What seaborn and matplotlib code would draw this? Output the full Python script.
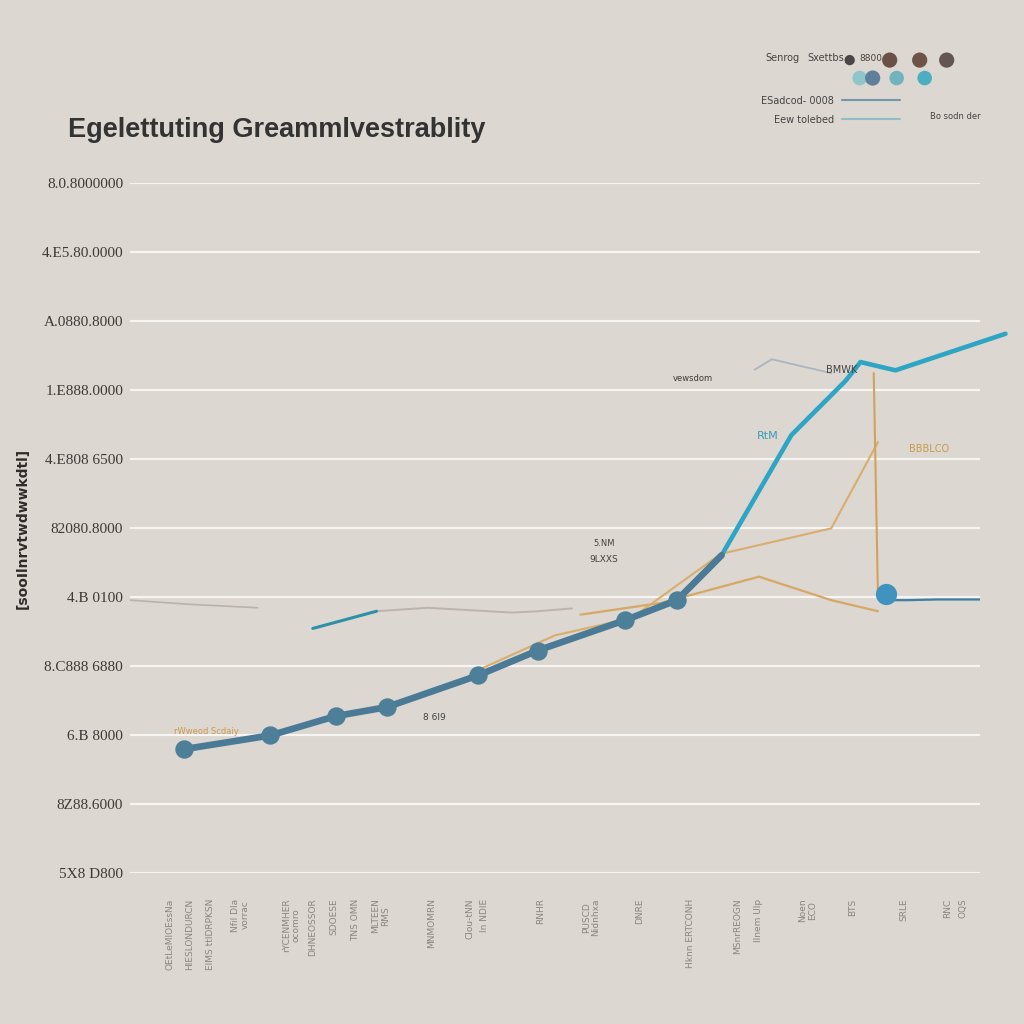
import numpy as np
import pandas as pd
import matplotlib.pyplot as plt
import seaborn as sns
from matplotlib.lines import Line2D

# --- data (x in category-steps, y in grid steps) ---
main_x = [1.26, 3.30, 4.84, 6.04, 8.19, 9.59, 11.65, 12.87, 13.92]
main_y = [1.80, 2.00, 2.28, 2.41, 2.87, 3.23, 3.67, 3.96, 4.61]
marker_x = [1.26, 3.30, 4.84, 6.04, 8.19, 9.59, 11.65, 12.87]
marker_y = [1.80, 2.00, 2.28, 2.41, 2.87, 3.23, 3.67, 3.96]
rise_x = [12.87, 13.92, 15.56, 16.84, 17.19, 18.01, 20.6]
rise_y = [3.96, 4.61, 6.35, 7.14, 7.41, 7.29, 7.82]
orange1_x = [10.6, 12.5, 14.8, 16.5, 17.6]
orange1_y = [3.75, 3.92, 4.30, 3.96, 3.80]
orange2_x = [8.2, 10.0, 11.8, 13.9, 16.5, 17.6]
orange2_y = [2.95, 3.45, 3.70, 4.63, 5.00, 6.25]
orange_v_x = [17.5, 17.6]
orange_v_y = [7.25, 4.00]
gray1_x = [0.0, 1.4, 3.0]
gray1_y = [3.96, 3.90, 3.85]
teal_seg_x = [4.3, 5.8]
teal_seg_y = [3.55, 3.80]
gray2_x = [5.8, 7.0, 9.0, 9.6, 10.4]
gray2_y = [3.80, 3.85, 3.78, 3.80, 3.84]
gray3_x = [14.7, 15.1, 16.5]
gray3_y = [7.30, 7.45, 7.25]
blue_tail_x = [17.75, 18.3, 19.0, 20.0]
blue_tail_y = [3.96, 3.96, 3.97, 3.97]
end_dot_x = [17.8]
end_dot_y = [4.05]

ytick_labels = ["5X8 D800", "8Z88.6000", "6.B 8000", "8.C888 6880", "4.B 0100",
                "82080.8000", "4.E808 6500", "1.E888.0000", "A.0880.8000",
                "4.E5.80.0000", "8.0.8000000"]
xtick_pos = [0.95, 1.4, 1.9, 2.6, 3.8, 4.3, 4.8, 5.3, 5.9, 7.1, 8.0, 8.35,
             9.65, 10.85, 12.0, 13.2, 14.3, 14.8, 15.95, 17.0, 18.2, 19.25, 19.6]
xtick_labels = ["OEtLeMlOEssNa", "HIESLONDURCN", "EIMS ttlDRPKSN", "Nfil Dla\nvorrac",
                "rYCENMHER\nocomro", "DHNEOSSOR", "SDOESE", "TNS OMN", "MLTEEN\nRMS",
                "MNMOMRN", "Clou-tNN", "ln NDIE", "RNHR", "PUSCD\nNidnhxa", "DNRE",
                "Hknn ERTCONH", "MSnrREOGN", "Ilnem Ulp", "Noen\nECO", "BTS",
                "SRLE", "RNC", "OQS"]

legend_dot_x = [1.0, 5.0, 8.0, 10.7, 2.0, 3.3, 5.7, 8.5]
legend_dot_y = [1.0, 1.0, 1.0, 1.0, 0.0, 0.0, 0.0, 0.0]
legend_dot_s = [55, 120, 120, 120, 110, 120, 110, 110]
legend_dot_c = ["#4b4747", "#6b5048", "#6e5447", "#625552",
                "#8fc6cc", "#5f7f9d", "#72b4bd", "#4eaec1"]

bg = "#dcd7d0"
sns.set_theme(style="whitegrid", rc={"axes.facecolor": bg, "figure.facecolor": bg,
                                     "grid.color": "#f7f5f2", "grid.linewidth": 1.6})

fig = plt.figure(figsize=(10.24, 10.24), dpi=100)
ax = fig.add_axes([0.127, 0.147, 0.83, 0.674])

# faint background / companion lines
sns.lineplot(x=gray1_x, y=gray1_y, ax=ax, color="#b9b2ad", lw=1.2)
sns.lineplot(x=gray2_x, y=gray2_y, ax=ax, color="#bdb2ad", lw=1.4)
sns.lineplot(x=gray3_x, y=gray3_y, ax=ax, color="#a9b6c0", lw=1.3, sort=False)
sns.lineplot(x=teal_seg_x, y=teal_seg_y, ax=ax, color="#2f8fa6", lw=2.2)
sns.lineplot(x=orange1_x, y=orange1_y, ax=ax, color="#d6a866", lw=1.6, sort=False)
sns.lineplot(x=orange2_x, y=orange2_y, ax=ax, color="#d9ad6e", lw=1.5, sort=False)
sns.lineplot(x=orange_v_x, y=orange_v_y, ax=ax, color="#d3a15e", lw=1.5, sort=False)
sns.lineplot(x=blue_tail_x, y=blue_tail_y, ax=ax, color="#3f7fa6", lw=1.6)

# main series
sns.lineplot(x=rise_x, y=rise_y, ax=ax, color="#2ea5c4", lw=3.3, sort=False)
ax.lines[-1].set_clip_on(False)
sns.lineplot(x=main_x, y=main_y, ax=ax, color="#4a7a95", lw=4.8)
sns.scatterplot(x=marker_x, y=marker_y, ax=ax, color="#4e7f99", s=150, edgecolor="#4e7f99", zorder=5)
sns.scatterplot(x=end_dot_x, y=end_dot_y, ax=ax, color="#3f93be", s=200, edgecolor="#3f93be", zorder=5)

ax.set_xlim(0, 20)
ax.set_ylim(0, 10)
ax.set_yticks(range(11))
ax.set_yticklabels(ytick_labels, fontsize=11, color="#3f3a38", family="Liberation Serif")
ax.set_xticks(xtick_pos)
ax.set_xticklabels(xtick_labels, rotation=90, fontsize=6.5, color="#8a8580", va="top", linespacing=1.1)
ax.tick_params(axis="x", pad=18, length=0)
ax.tick_params(axis="y", pad=5, length=0)
ax.grid(axis="x", visible=False)
for s in ax.spines.values():
    s.set_visible(False)

ax.set_ylabel("[sooIlnrvtwdwwkdtl]", fontsize=10, color="#2f2b29", fontweight="bold")
ax.yaxis.set_label_coords(-0.118, 0.5)

# annotations
ax.text(15.0, 6.3, "RtM", fontsize=8, color="#3a9cbc", ha="center")
ax.text(13.25, 7.13, "vewsdom", fontsize=6, color="#3d3a38", ha="center")
ax.text(16.75, 7.25, "BMWK", fontsize=7, color="#444", ha="center")
ax.text(18.8, 6.1, "BBBLCO", fontsize=7, color="#c99a4f", ha="center")
ax.text(11.15, 4.75, "5.NM", fontsize=6, color="#444", ha="center")
ax.text(11.15, 4.52, "9LXXS", fontsize=6.5, color="#444", ha="center")
ax.text(7.15, 2.22, "8 6l9", fontsize=6.5, color="#444", ha="center")
ax.text(1.8, 2.02, "rWweod Scdaiy", fontsize=6, color="#c99a4f", ha="center")

fig.text(0.066, 0.866, "Egelettuting Greammlvestrablity", fontsize=19.5, color="#333",
         fontweight="bold", family="Liberation Sans")

# legend block top right
lax = fig.add_axes([0.82, 0.915, 0.125, 0.04])
lax.set_axis_off()
sns.scatterplot(x=legend_dot_x, y=legend_dot_y, hue=legend_dot_c, size=legend_dot_s,
                sizes=(55, 120), palette=dict(zip(legend_dot_c, legend_dot_c)),
                ax=lax, legend=False, edgecolor="none")
lax.set_xlim(0, 12.8)
lax.set_ylim(-0.5, 1.78)
fig.text(0.747, 0.94, "Senrog", fontsize=7, color="#444")
fig.text(0.788, 0.94, "Sxettbs", fontsize=7, color="#444")
fig.text(0.839, 0.94, "8800", fontsize=6.5, color="#444")

handles = [Line2D([0], [0], color="#6f98ad", lw=1.5), Line2D([0], [0], color="#8fbfc4", lw=1.5)]
leg = fig.legend(handles, ["ESadcod- 0008", "Eew tolebed"], loc="upper left",
                 bbox_to_anchor=(0.735, 0.915), frameon=False, fontsize=7,
                 handlelength=6, markerfirst=False, labelspacing=0.9)
for t in leg.get_texts():
    t.set_color("#444")
fig.text(0.908, 0.884, "Bo sodn der", fontsize=6, color="#444")

fig.savefig("out.png", dpi=100, facecolor=bg)
